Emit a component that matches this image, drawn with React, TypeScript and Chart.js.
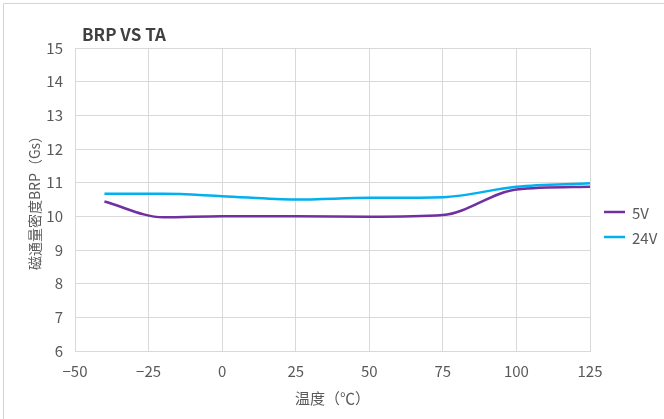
import { useEffect, useRef } from "react";
import { Chart, registerables } from "chart.js";

Chart.register(...registerables);

// Temperature sweep (°C) and measured BRP (Gs) for each supply voltage
const temperatures = [-40, -20, 0, 25, 50, 75, 100, 125];
const brp5V = [10.44, 9.97, 10.0, 10.0, 9.99, 10.04, 10.8, 10.88];
const brp24V = [10.67, 10.67, 10.6, 10.5, 10.55, 10.57, 10.88, 10.98];
const seriesLabels = ["5V", "24V"];
const seriesColors = ["#7030A0", "#00B0F0"];

const xRange = { min: -50, max: 125, step: 25 };
const yRange = { min: 6, max: 15, step: 1 };

const chartTitle = "BRP VS TA";
const xTitle = "温度（℃）";
const yTitle = "磁通量密度BRP（Gs）";

const FONT = "'Noto Sans CJK SC', sans-serif";
const TEXT = "#595959";
const GRID = "#D9D9D9";

const toPoints = (ys: number[]) => temperatures.map((x, i) => ({ x, y: ys[i] }));

// Frame, heading and the legend on the right of the plot
const decorations = {
  id: "decorations",
  beforeDraw(chart: Chart) {
    const { ctx, width, height } = chart;
    ctx.save();
    ctx.fillStyle = "#ffffff";
    ctx.fillRect(0, 0, width, height);
    ctx.strokeStyle = "#D4D4D4";
    ctx.lineWidth = 1;
    ctx.beginPath();
    ctx.moveTo(3.5, height);
    ctx.lineTo(3.5, 3.5);
    ctx.lineTo(width, 3.5);
    ctx.stroke();
    ctx.restore();
  },
  afterDraw(chart: Chart) {
    const { ctx, chartArea } = chart;
    ctx.save();
    ctx.fillStyle = "#404040";
    ctx.font = `bold 17px ${FONT}`;
    ctx.textBaseline = "middle";
    ctx.textAlign = "left";
    ctx.fillText(chartTitle, chartArea.left + 7, 35);

    ctx.font = `15px ${FONT}`;
    chart.data.datasets.forEach((ds, i) => {
      const y = 212 + i * 25;
      const x0 = chartArea.right + 14;
      ctx.strokeStyle = ds.borderColor as string;
      ctx.lineWidth = 2.5;
      ctx.beginPath();
      ctx.moveTo(x0, y);
      ctx.lineTo(x0 + 21, y);
      ctx.stroke();
      ctx.fillStyle = TEXT;
      ctx.fillText(ds.label as string, x0 + 28, y + 1);
    });
    ctx.restore();
  },
};

export default function App() {
  const canvasRef = useRef<HTMLCanvasElement | null>(null);

  useEffect(() => {
    if (!canvasRef.current) return;
    const tickFont = { family: FONT, size: 15 };
    const titleFont = { family: FONT, size: 14 };

    const lineStyle = {
      borderWidth: 2.5,
      pointRadius: 0,
      cubicInterpolationMode: "monotone" as const,
      fill: false,
    };

    const chart = new Chart(canvasRef.current, {
      type: "line",
      data: {
        datasets: [
          {
            label: seriesLabels[0],
            data: toPoints(brp5V),
            borderColor: seriesColors[0],
            backgroundColor: seriesColors[0],
            ...lineStyle,
          },
          {
            label: seriesLabels[1],
            data: toPoints(brp24V),
            borderColor: seriesColors[1],
            backgroundColor: seriesColors[1],
            ...lineStyle,
          },
        ],
      },
      options: {
        animation: false,
        responsive: false,
        maintainAspectRatio: false,
        layout: { padding: { top: 48, right: 74, bottom: 0, left: 0 } },
        plugins: {
          legend: { display: false },
          title: { display: false },
          tooltip: { enabled: false },
        },
        scales: {
          x: {
            type: "linear",
            min: xRange.min,
            max: xRange.max,
            ticks: {
              stepSize: xRange.step,
              padding: 11,
              color: TEXT,
              font: tickFont,
              callback: (v) => String(v).replace("-", "\u2212"),
            },
            grid: { color: GRID, drawTicks: false },
            border: { color: GRID },
            title: {
              display: true,
              text: xTitle,
              color: TEXT,
              font: { family: FONT, size: 15 },
              padding: { top: 0, bottom: 12 },
            },
            afterFit: (scale) => {
              scale.height = 68;
            },
          },
          y: {
            type: "linear",
            min: yRange.min,
            max: yRange.max,
            ticks: {
              stepSize: yRange.step,
              padding: 12,
              color: TEXT,
              font: tickFont,
            },
            grid: { color: GRID, drawTicks: false },
            border: { color: GRID },
            title: {
              display: true,
              text: yTitle,
              color: TEXT,
              font: titleFont,
              padding: { top: 26, bottom: 0 },
            },
            afterFit: (scale) => {
              scale.width = 75;
            },
          },
        },
      },
      plugins: [decorations],
    });
    return () => chart.destroy();
  }, []);

  return (
    <div style={{ position: "fixed", left: 0, top: 0, width: 664, height: 419, overflow: "hidden", background: "#fff" }}>
      <canvas ref={canvasRef} width={664} height={419} style={{ display: "block" }} />
    </div>
  );
}
